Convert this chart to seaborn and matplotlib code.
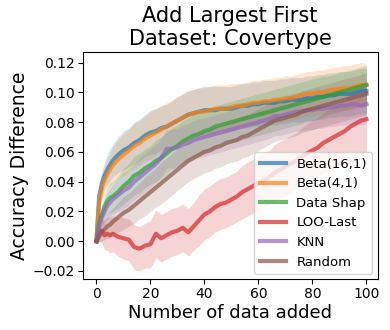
import numpy as np
import pandas as pd
import matplotlib
matplotlib.use("Agg")
import matplotlib.pyplot as plt
import seaborn as sns

x_vals = [0, 1, 2, 3, 4, 5, 6, 8, 10, 12, 14, 16, 18, 20, 22, 24, 26, 28, 30, 32, 34, 36, 38,
          40, 42, 44, 46, 48, 50, 52, 54, 56, 58, 60, 62, 64, 66, 68, 70, 72, 74, 76, 78,
          80, 82, 84, 86, 88, 90, 92, 94, 96, 98, 100]

beta16 = [0.000, 0.030, 0.039, 0.044, 0.048, 0.051, 0.054, 0.058, 0.061, 0.063, 0.066, 0.068,
          0.071, 0.073, 0.074, 0.076, 0.077, 0.079, 0.081, 0.083, 0.085, 0.086, 0.087, 0.088,
          0.088, 0.088, 0.089, 0.089, 0.089, 0.090, 0.091, 0.091, 0.092, 0.092, 0.093, 0.093,
          0.093, 0.094, 0.094, 0.095, 0.095, 0.095, 0.096, 0.096, 0.097, 0.097, 0.098, 0.098,
          0.099, 0.099, 0.099, 0.100, 0.101, 0.101]
beta4 = [0.000, 0.026, 0.036, 0.041, 0.045, 0.048, 0.051, 0.055, 0.058, 0.061, 0.064, 0.066,
         0.069, 0.071, 0.073, 0.075, 0.077, 0.079, 0.081, 0.083, 0.085, 0.086, 0.087, 0.087,
         0.088, 0.089, 0.089, 0.089, 0.090, 0.091, 0.091, 0.092, 0.093, 0.093, 0.094, 0.094,
         0.095, 0.095, 0.096, 0.096, 0.097, 0.098, 0.099, 0.099, 0.100, 0.100, 0.101, 0.102,
         0.102, 0.103, 0.103, 0.104, 0.105, 0.105]
datashap = [0.000, 0.012, 0.018, 0.023, 0.027, 0.029, 0.030, 0.033, 0.037, 0.040, 0.044, 0.046,
            0.049, 0.051, 0.054, 0.056, 0.059, 0.062, 0.064, 0.067, 0.069, 0.071, 0.072, 0.074,
            0.075, 0.077, 0.078, 0.079, 0.080, 0.081, 0.082, 0.083, 0.084, 0.085, 0.086, 0.087,
            0.088, 0.089, 0.090, 0.091, 0.092, 0.093, 0.094, 0.095, 0.096, 0.097, 0.098, 0.099,
            0.100, 0.101, 0.102, 0.103, 0.104, 0.105]
loo_last = [0.000, 0.006, 0.007, 0.004, 0.005, 0.004, 0.005, 0.003, 0.002, 0.001, -0.004, -0.005,
            -0.003, -0.002, 0.005, 0.002, 0.004, 0.006, 0.007, 0.009, 0.006, 0.010, 0.014, 0.018,
            0.020, 0.023, 0.025, 0.026, 0.028, 0.030, 0.033, 0.035, 0.037, 0.039, 0.041, 0.043,
            0.046, 0.048, 0.050, 0.052, 0.054, 0.057, 0.059, 0.061, 0.063, 0.066, 0.068, 0.070,
            0.072, 0.074, 0.077, 0.079, 0.081, 0.082]
knn = [0.000, 0.010, 0.016, 0.020, 0.024, 0.026, 0.028, 0.031, 0.034, 0.036, 0.040, 0.043,
       0.046, 0.049, 0.052, 0.056, 0.062, 0.062, 0.063, 0.065, 0.066, 0.068, 0.069, 0.070,
       0.071, 0.072, 0.073, 0.074, 0.075, 0.076, 0.077, 0.078, 0.079, 0.080, 0.081, 0.082,
       0.084, 0.084, 0.085, 0.086, 0.087, 0.087, 0.088, 0.088, 0.089, 0.089, 0.090, 0.090,
       0.091, 0.091, 0.092, 0.092, 0.091, 0.092]
random_ = [0.000, 0.003, 0.006, 0.008, 0.010, 0.011, 0.013, 0.016, 0.019, 0.021, 0.024, 0.027,
           0.030, 0.033, 0.036, 0.039, 0.042, 0.045, 0.048, 0.051, 0.054, 0.056, 0.058, 0.060,
           0.061, 0.063, 0.064, 0.066, 0.067, 0.068, 0.070, 0.071, 0.073, 0.075, 0.077, 0.079,
           0.081, 0.082, 0.083, 0.084, 0.085, 0.087, 0.088, 0.089, 0.090, 0.091, 0.092, 0.093,
           0.094, 0.095, 0.096, 0.097, 0.098, 0.099]

# band half-widths
sd_beta16 = [0.000, 0.006, 0.008, 0.009, 0.010, 0.011, 0.011, 0.012, 0.013, 0.013, 0.014, 0.014,
             0.014, 0.015, 0.015, 0.015, 0.015, 0.015, 0.016, 0.016, 0.016, 0.016, 0.016, 0.016,
             0.016, 0.016, 0.015, 0.015, 0.015, 0.015, 0.015, 0.015, 0.015, 0.015, 0.015, 0.015,
             0.015, 0.015, 0.015, 0.015, 0.015, 0.015, 0.015, 0.015, 0.015, 0.015, 0.015, 0.015,
             0.015, 0.015, 0.015, 0.015, 0.015, 0.015]
sd_beta4 = [0.000, 0.006, 0.008, 0.009, 0.010, 0.011, 0.012, 0.013, 0.014, 0.014, 0.015, 0.015,
            0.015, 0.016, 0.016, 0.016, 0.016, 0.016, 0.016, 0.016, 0.016, 0.016, 0.016, 0.016,
            0.016, 0.016, 0.016, 0.016, 0.016, 0.015, 0.015, 0.015, 0.015, 0.015, 0.015, 0.015,
            0.015, 0.015, 0.015, 0.015, 0.015, 0.015, 0.015, 0.015, 0.015, 0.015, 0.015, 0.015,
            0.015, 0.015, 0.015, 0.015, 0.015, 0.014]
sd_datashap = [0.000, 0.005, 0.007, 0.008, 0.009, 0.010, 0.010, 0.011, 0.012, 0.012, 0.013, 0.013,
               0.013, 0.013, 0.014, 0.014, 0.014, 0.014, 0.014, 0.014, 0.014, 0.014, 0.014, 0.014,
               0.014, 0.014, 0.014, 0.014, 0.014, 0.014, 0.014, 0.014, 0.014, 0.014, 0.014, 0.014,
               0.014, 0.014, 0.014, 0.014, 0.014, 0.014, 0.014, 0.014, 0.014, 0.014, 0.013, 0.013,
               0.013, 0.013, 0.013, 0.013, 0.013, 0.013]
sd_loo = [0.000, 0.006, 0.008, 0.010, 0.011, 0.012, 0.012, 0.013, 0.014, 0.014, 0.015, 0.015,
          0.015, 0.016, 0.016, 0.016, 0.016, 0.016, 0.016, 0.016, 0.016, 0.016, 0.017, 0.017,
          0.017, 0.017, 0.017, 0.017, 0.017, 0.017, 0.018, 0.018, 0.018, 0.018, 0.018, 0.018,
          0.019, 0.019, 0.019, 0.019, 0.019, 0.019, 0.020, 0.020, 0.020, 0.020, 0.021, 0.021,
          0.021, 0.021, 0.022, 0.022, 0.022, 0.022]
sd_knn = [0.000, 0.005, 0.007, 0.008, 0.009, 0.010, 0.010, 0.011, 0.012, 0.012, 0.012, 0.013,
          0.013, 0.013, 0.013, 0.013, 0.013, 0.013, 0.013, 0.013, 0.013, 0.013, 0.013, 0.013,
          0.013, 0.013, 0.013, 0.013, 0.013, 0.013, 0.013, 0.013, 0.013, 0.013, 0.013, 0.013,
          0.013, 0.013, 0.013, 0.013, 0.013, 0.013, 0.013, 0.013, 0.013, 0.013, 0.013, 0.013,
          0.013, 0.013, 0.013, 0.013, 0.013, 0.013]
sd_random = [0.000, 0.004, 0.006, 0.007, 0.008, 0.009, 0.009, 0.010, 0.011, 0.011, 0.012, 0.012,
             0.013, 0.013, 0.013, 0.014, 0.014, 0.014, 0.014, 0.014, 0.014, 0.014, 0.014, 0.014,
             0.014, 0.014, 0.014, 0.014, 0.014, 0.014, 0.014, 0.014, 0.014, 0.014, 0.014, 0.014,
             0.014, 0.014, 0.014, 0.014, 0.014, 0.014, 0.014, 0.014, 0.014, 0.014, 0.014, 0.014,
             0.014, 0.014, 0.014, 0.014, 0.014, 0.014]

labels = ["Beta(16,1)", "Beta(4,1)", "Data Shap", "LOO-Last", "KNN", "Random"]
means = [beta16, beta4, datashap, loo_last, knn, random_]
sds = [sd_beta16, sd_beta4, sd_datashap, sd_loo, sd_knn, sd_random]
colors = ["#1f77b4", "#ff7f0e", "#2ca02c", "#d62728", "#9467bd", "#8c564b"]

rows = []
for lab, m in zip(labels, means):
    for xv, yv in zip(x_vals, m):
        rows.append({"x": xv, "y": yv, "method": lab})
df = pd.DataFrame(rows)

fig = plt.figure(figsize=(3.9, 3.3), dpi=100)
ax = fig.add_axes([0.212, 0.154, 0.756, 0.688])

for lab, m, s, c in zip(labels, means, sds, colors):
    m = np.array(m)
    s = np.array(s)
    ax.fill_between(x_vals, m - s, m + s, color=c, alpha=0.2, linewidth=0)

sns.lineplot(data=df, x="x", y="y", hue="method", hue_order=labels, palette=colors,
             linewidth=3, alpha=0.7, ax=ax, errorbar=None)

ax.set_xlim(-5.1, 104.1)
ax.set_ylim(-0.0255, 0.127)
ax.set_xticks([0, 20, 40, 60, 80, 100])
ax.set_yticks([-0.02, 0.00, 0.02, 0.04, 0.06, 0.08, 0.10, 0.12])
ax.tick_params(labelsize=10, pad=2)
ax.set_xlabel("Number of data added", fontsize=13, labelpad=2)
ax.set_ylabel("Accuracy Difference", fontsize=13.5, labelpad=3)
ax.set_title("Add Largest First\nDataset: Covertype", fontsize=15, pad=5)
leg = ax.legend(loc="lower right", fontsize=9.5, borderaxespad=0.4)
for h in leg.get_lines():
    h.set_linewidth(3)
    h.set_alpha(0.7)

fig.savefig("out.png", dpi=100)
